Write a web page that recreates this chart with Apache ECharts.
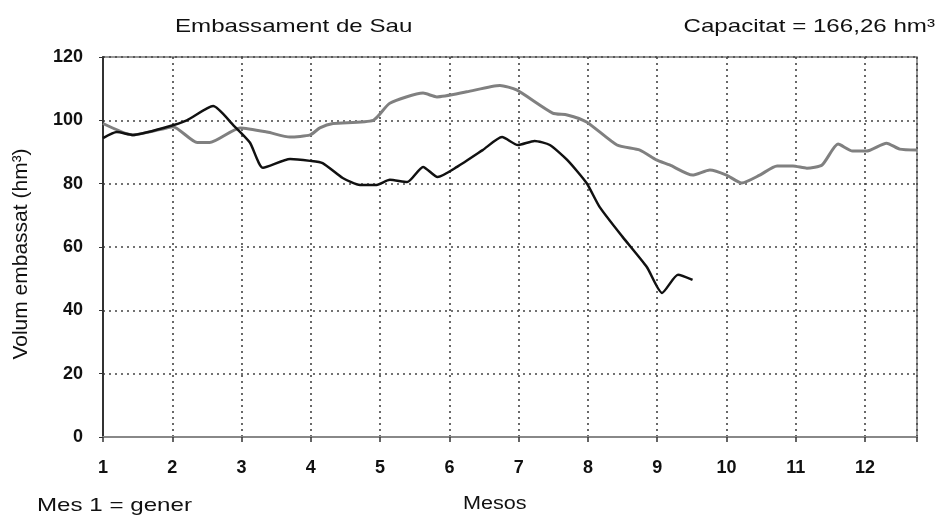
<!DOCTYPE html>
<html>
<head>
<meta charset="utf-8">
<script src="https://cdn.jsdelivr.net/npm/echarts@6/dist/echarts.min.js"></script>
<style>
  html, body { margin: 0; padding: 0; background: #fff; }
  #chart { width: 941px; height: 518px; }
</style>
</head>
<body>
<div id="chart"></div>
<script>
// months (1 = gener) and volumes in hm3
var grayMonths = [1.00, 1.43, 1.92, 2.01, 2.36, 2.54, 2.98, 3.37, 3.70, 3.99, 4.13, 4.32, 4.90, 5.14, 5.62, 5.82, 6.25, 6.73, 6.97, 7.49, 7.70, 7.98, 8.42, 8.75, 8.99, 9.18, 9.51, 9.76, 10.00, 10.22, 10.48, 10.73, 10.96, 11.16, 11.38, 11.61, 11.82, 12.02, 12.31, 12.50, 12.75];
var grayVolumes = [99, 95.4, 97.6, 98, 93, 93, 97.6, 96.3, 94.7, 95.4, 97.6, 99, 100, 105.4, 108.6, 107.4, 109, 111, 109.6, 102.3, 101.7, 99.5, 92.2, 90.6, 87.5, 85.9, 82.7, 84.3, 82.7, 80.2, 82.7, 85.6, 85.6, 84.9, 85.9, 92.5, 90.3, 90.3, 92.8, 90.9, 90.6];

var blackMonths = [1.00, 1.20, 1.43, 1.92, 2.21, 2.59, 2.88, 3.12, 3.31, 3.70, 3.99, 4.17, 4.46, 4.71, 4.95, 5.14, 5.39, 5.62, 5.83, 6.11, 6.48, 6.76, 6.99, 7.23, 7.45, 7.70, 7.98, 8.17, 8.50, 8.85, 9.07, 9.30, 9.51];
var blackVolumes = [94.4, 96.3, 95.4, 97.9, 100, 104.5, 98.5, 93, 85, 87.8, 87.2, 86.5, 81.8, 79.6, 79.6, 81.2, 80.5, 85.3, 82.1, 85.3, 90.6, 94.7, 92.2, 93.5, 92.2, 87.5, 80.2, 72.6, 63.2, 53.7, 45.5, 51.2, 49.6];

var yTicks = [0, 20, 40, 60, 80, 100, 120];

function pairs(xs, ys){
    var out = [];
    for (var i = 0; i < xs.length; i++) out.push([xs[i], ys[i]]);
    return out;
}

var chart = echarts.init(document.getElementById('chart'));
var font = '"Liberation Sans", Arial, sans-serif';

// the source picture is stretched sideways, so texts get a scaleX
function label(txt, x, y, align, size, sx){
    return {
        type: 'text', x: x, y: y, scaleX: sx,
        style: { text: txt, font: size + 'px ' + font, fill: '#111', align: align, verticalAlign: 'middle' }
    };
}

var option = {
    backgroundColor: '#fff',
    animation: false,
    textStyle: { fontFamily: font },
    grid: {
        left: 103, right: 24, top: 57, bottom: 81,
        show: true, borderColor: '#777', borderWidth: 1.5
    },
    graphic: [
        label('Embassament de Sau', 175, 27, 'left', 19, 1.27),
        label('Capacitat = 166,26 hm³', 935, 27, 'right', 19, 1.27),
        label('Mesos', 463, 504, 'left', 18, 1.2),
        label('Mes 1 = gener', 37, 506, 'left', 19, 1.27),
        { type: 'text', x: 21, y: 254, rotation: Math.PI / 2,
          style: { text: 'Volum embassat (hm³)', font: '21px ' + font, fill: '#111', align: 'center', verticalAlign: 'middle' } }
    ],
    xAxis: {
        type: 'value',
        min: 1, max: 12.75, interval: 1,
        axisLine: { onZero: false, lineStyle: { color: '#888', width: 2 } },
        axisTick: { show: true, length: 5, lineStyle: { color: '#333', width: 1.5 } },
        axisLabel: {
            margin: 22, color: '#111', fontSize: 18, fontWeight: 'bold',
            formatter: function(v){ return Number.isInteger(v) ? String(v) : ''; }
        },
        splitLine: { show: true, lineStyle: { color: '#444', type: [2, 4], width: 1.6 } }
    },
    yAxis: {
        type: 'value',
        min: 0, max: 120, interval: 20,
        axisLine: { show: true, lineStyle: { color: '#333', width: 2 } },
        axisTick: { show: true, length: 4, lineStyle: { color: '#333' } },
        axisLabel: {
            margin: 20, color: '#111', fontSize: 18, fontWeight: 'bold',
            formatter: function(v){ return yTicks.indexOf(v) >= 0 ? String(v) : ''; }
        },
        splitLine: { show: true, lineStyle: { color: '#444', type: [2, 4], width: 1.6 } }
    },
    series: [
        {
            name: 'gray', type: 'line', showSymbol: false, smooth: 0.2,
            lineStyle: { color: '#808080', width: 3 },
            data: pairs(grayMonths, grayVolumes)
        },
        {
            name: 'black', type: 'line', showSymbol: false, smooth: 0.2,
            lineStyle: { color: '#111', width: 2.5 },
            data: pairs(blackMonths, blackVolumes)
        }
    ]
};
chart.setOption(option);
</script>
</body>
</html>
